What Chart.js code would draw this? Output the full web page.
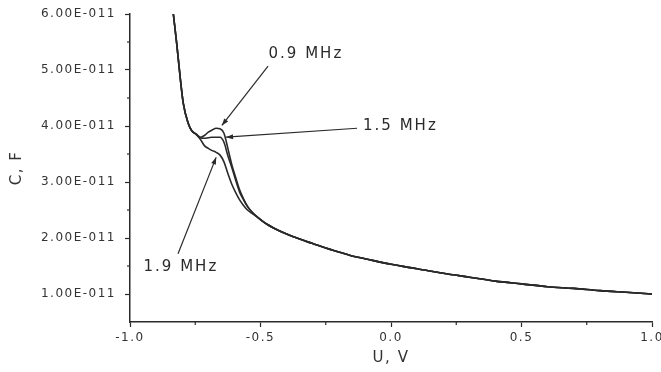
<!DOCTYPE html>
<html>
<head>
<meta charset="utf-8">
<script src="https://cdn.jsdelivr.net/npm/chart.js@4.4.1/dist/chart.umd.min.js"></script>
<style>
  body { margin: 0; background: #fff; }
  canvas { display: block; }
</style>
</head>
<body>
<canvas id="myChart" width="661" height="372"></canvas>
<script>
// U, V
var voltage = [-0.834, -0.821, -0.808, -0.796, -0.777, -0.764, -0.745, -0.73, -0.715, -0.70,
    -0.685, -0.67, -0.655, -0.64, -0.625, -0.61, -0.595, -0.58, -0.565, -0.55, -0.53,
    -0.50, -0.475, -0.45, -0.40, -0.35, -0.30, -0.25, -0.20, -0.15, -0.10, 0.0,
    0.1, 0.2, 0.3, 0.4, 0.5, 0.6, 0.7, 0.8, 0.9, 1.0];

// C in units of 1E-011 F
var c09MHz = [6.0, 5.47, 4.88, 4.41, 4.05, 3.92, 3.85, 3.80, 3.83, 3.89,
    3.93, 3.96, 3.95, 3.87, 3.60, 3.31, 3.08, 2.86, 2.70, 2.57, 2.45,
    2.33, 2.245, 2.18, 2.07, 1.98, 1.90, 1.82, 1.75, 1.68, 1.63, 1.53,
    1.45, 1.37, 1.30, 1.23, 1.18, 1.13, 1.10, 1.06, 1.03, 1.00];
var c15MHz = [6.0, 5.47, 4.88, 4.41, 4.05, 3.92, 3.85, 3.79, 3.78, 3.79,
    3.80, 3.80, 3.80, 3.71, 3.47, 3.26, 3.03, 2.82, 2.68, 2.56, 2.45,
    2.33, 2.245, 2.18, 2.07, 1.98, 1.90, 1.82, 1.75, 1.68, 1.63, 1.53,
    1.45, 1.37, 1.30, 1.23, 1.18, 1.13, 1.10, 1.06, 1.03, 1.00];
var c19MHz = [6.0, 5.47, 4.88, 4.41, 4.05, 3.92, 3.84, 3.76, 3.65, 3.60,
    3.56, 3.53, 3.48, 3.36, 3.15, 2.96, 2.81, 2.68, 2.58, 2.50, 2.43,
    2.33, 2.245, 2.18, 2.07, 1.98, 1.90, 1.82, 1.75, 1.68, 1.63, 1.53,
    1.45, 1.37, 1.30, 1.23, 1.18, 1.13, 1.10, 1.06, 1.03, 1.00];

var xTicks = [-1.0, -0.5, 0.0, 0.5, 1.0];
var xMinor = [-0.75, -0.25, 0.25, 0.75];
var yTicks = [1, 2, 3, 4, 5, 6];
var yMinor = [1.5, 2.5, 3.5, 4.5, 5.5];

// annotations: label, label centre, arrow start, arrow tip (U, C)
var noteText = ['0.9 MHz', '1.5 MHz', '1.9 MHz'];
var noteAt   = [[-0.326, 5.28], [0.036, 3.99], [-0.805, 1.48]];
var noteFrom = [[-0.471, 5.07], [-0.130, 3.96], [-0.816, 1.72]];
var noteTo   = [[-0.648, 4.01], [-0.632, 3.80], [-0.670, 3.44]];

var ink = '#2a2a2a';
var tickFont = { family: 'DejaVu Sans', size: 12 };
var titleFont = { family: 'DejaVu Sans', size: 15 };

function pts(ys) {
    return voltage.map(function (u, i) { return { x: u, y: ys[i] }; });
}

var extras = {
    id: 'extras',
    beforeDraw: function (chart) {
        chart.ctx.letterSpacing = '1.5px';
    },
    afterDraw: function (chart) {
        var ctx = chart.ctx, sx = chart.scales.x, sy = chart.scales.y;
        var area = chart.chartArea;
        ctx.save();
        ctx.strokeStyle = ink;
        ctx.lineWidth = 1.2;
        // minor ticks
        xMinor.forEach(function (v) {
            var px = sx.getPixelForValue(v);
            ctx.beginPath(); ctx.moveTo(px, area.bottom); ctx.lineTo(px, area.bottom + 3); ctx.stroke();
        });
        yMinor.forEach(function (v) {
            var py = sy.getPixelForValue(v);
            ctx.beginPath(); ctx.moveTo(area.left, py); ctx.lineTo(area.left - 3, py); ctx.stroke();
        });
        // arrows
        ctx.fillStyle = ink;
        noteText.forEach(function (t, i) {
            var x0 = sx.getPixelForValue(noteFrom[i][0]), y0 = sy.getPixelForValue(noteFrom[i][1]);
            var x1 = sx.getPixelForValue(noteTo[i][0]), y1 = sy.getPixelForValue(noteTo[i][1]);
            ctx.beginPath(); ctx.moveTo(x0, y0); ctx.lineTo(x1, y1); ctx.stroke();
            var a = Math.atan2(y1 - y0, x1 - x0);
            ctx.beginPath();
            ctx.moveTo(x1, y1);
            ctx.lineTo(x1 - 7 * Math.cos(a) + 2.5 * Math.sin(a), y1 - 7 * Math.sin(a) - 2.5 * Math.cos(a));
            ctx.lineTo(x1 - 7 * Math.cos(a) - 2.5 * Math.sin(a), y1 - 7 * Math.sin(a) + 2.5 * Math.cos(a));
            ctx.closePath(); ctx.fill();
            ctx.font = '15px "DejaVu Sans"';
            ctx.letterSpacing = '2px';
            ctx.textAlign = 'center';
            ctx.textBaseline = 'middle';
            ctx.fillText(t, sx.getPixelForValue(noteAt[i][0]), sy.getPixelForValue(noteAt[i][1]));
        });
        ctx.restore();
    }
};

var ctx = document.getElementById('myChart').getContext('2d');

var myGraph = new Chart(ctx, {
    type: 'line',
    data: {
        datasets: [
            { data: pts(c09MHz) },
            { data: pts(c15MHz) },
            { data: pts(c19MHz) }
        ]
    },
    options: {
        responsive: false,
        animation: false,
        layout: { padding: { left: 0, right: 9, top: 14, bottom: 0 } },
        elements: {
            point: { radius: 0 },
            line: { borderColor: ink, borderWidth: 1.6, cubicInterpolationMode: 'monotone', fill: false }
        },
        plugins: {
            legend: { display: false },
            tooltip: { enabled: false }
        },
        scales: {
            x: {
                type: 'linear',
                min: -1,
                max: 1,
                afterBuildTicks: function (s) { s.ticks = xTicks.map(function (v) { return { value: v }; }); },
                afterFit: function (s) { s.height = 50; s.paddingLeft = 0; s.paddingRight = 0; },
                grid: { drawOnChartArea: false, tickLength: 5, color: ink, tickWidth: 1.2 },
                border: { color: ink, width: 1.5 },
                ticks: {
                    font: tickFont, color: '#333', padding: 4, maxRotation: 0, autoSkip: false,
                    callback: function (v) { return v.toFixed(1); }
                },
                title: { display: true, text: 'U, V', font: titleFont, color: '#333', padding: { top: 0, bottom: 5 } }
            },
            y: {
                min: 0.5,
                max: 6,
                afterBuildTicks: function (s) { s.ticks = yTicks.map(function (v) { return { value: v }; }); },
                afterFit: function (s) { s.width = 130; s.paddingTop = 0; s.paddingBottom = 0; },
                grid: { drawOnChartArea: false, tickLength: 5, color: ink, tickWidth: 1.2 },
                border: { color: ink, width: 1.5 },
                ticks: {
                    font: tickFont, color: '#333', padding: 9,
                    callback: function (v) { return v.toFixed(2) + 'E-011'; }
                },
                title: { display: true, text: 'C, F', font: titleFont, color: '#333', padding: { top: 8, bottom: 0 } }
            }
        }
    },
    plugins: [extras]
});
</script>
</body>
</html>
